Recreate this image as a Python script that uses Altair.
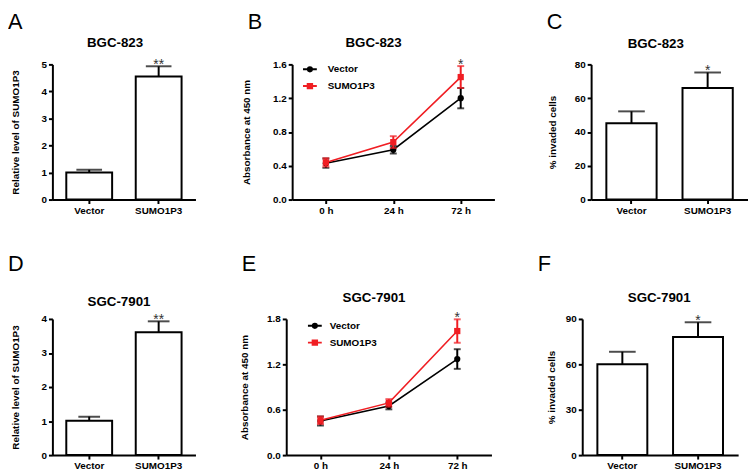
import altair as alt
import pandas as pd

FONT = "Liberation Sans"
RED = "#F01E23"

groups = ["Vector", "SUMO1P3"]
series_colors = ["black", RED]
series_shapes = ["circle", "square"]
timepoints = ["0 h", "24 h", "72 h"]

panel_letters = ["A", "B", "C", "D", "E", "F"]
panel_titles = ["BGC-823", "BGC-823", "BGC-823", "SGC-7901", "SGC-7901", "SGC-7901"]
panel_stars = ["**", "*", "*", "**", "*", "*"]
bar_ylabel_expr = "Relative level of SUMO1P3"
bar_ylabel_inv = "% invaded cells"
line_ylabel = "Absorbance at 450 nm"

# A: relative level, BGC-823
a_means = [1.00, 4.55]
a_errs = [0.10, 0.38]
# C: invasion, BGC-823
c_means = [45.1, 66.0]
c_errs = [7.1, 9.2]
# D: relative level, SGC-7901
d_means = [1.01, 3.61]
d_errs = [0.12, 0.32]
# F: invasion, SGC-7901
f_means = [60.1, 78.1]
f_errs = [8.2, 9.7]

# B: absorbance, BGC-823
b_vector = [0.43, 0.59, 1.20]
b_vector_err = [0.055, 0.045, 0.12]
b_sumo = [0.44, 0.68, 1.45]
b_sumo_err = [0.05, 0.07, 0.13]
# E: absorbance, SGC-7901
e_vector = [0.45, 0.65, 1.27]
e_vector_err = [0.06, 0.045, 0.13]
e_sumo = [0.46, 0.69, 1.64]
e_sumo_err = [0.05, 0.05, 0.155]

P_VEC = "M-1,0H1M0.3,0A0.3,0.3,0,1,1,-0.3,0A0.3,0.3,0,1,1,0.3,0Z"
P_SUMO = "M-1,0H1M-0.32,-0.32H0.32V0.32H-0.32Z"


def heading_layers(i, width, title_dx, title_y, letter_y):
    df = pd.DataFrame({"letter": [panel_letters[i]], "title": [panel_titles[i]]})
    letter = alt.Chart(df).mark_text(
        font=FONT, fontSize=22, align="left", baseline="top", color="black"
    ).encode(x=alt.value(-45), y=alt.value(letter_y), text="letter:N")
    title = alt.Chart(df).mark_text(
        font=FONT, fontSize=13.5, fontWeight="bold", align="center", baseline="alphabetic",
        color="black"
    ).encode(x=alt.value(width / 2 + title_dx), y=alt.value(title_y), text="title:N")
    return [letter, title]


def bar_panel(i, ylabel, means, errs, ymax, yticks, width, height,
              title_dx, title_y, title_pad, letter_y, cap):
    df = pd.DataFrame({"group": groups, "mean": means, "err": errs})
    df["top"] = df["mean"] + df["err"]
    df["star"] = ["", panel_stars[i]]
    xs = alt.X("group:N", sort=groups, title=None,
               scale=alt.Scale(paddingInner=0.34, paddingOuter=0.2),
               axis=alt.Axis(labelAngle=0, labelPadding=2))
    yscale = alt.Scale(domain=[0, ymax], nice=False, zero=True)
    yaxis = alt.Axis(values=yticks, titlePadding=title_pad, labelPadding=2)

    def Y(field):
        return alt.Y(field, scale=yscale, title=ylabel, axis=yaxis)

    base = alt.Chart(df)
    bars = base.mark_bar(fill="white", stroke="black", strokeWidth=2).encode(x=xs, y=Y("mean:Q"))
    rule = base.mark_rule(color="black", strokeWidth=2).encode(x=xs, y=Y("mean:Q"), y2="top:Q")
    caps = base.mark_tick(color="black", thickness=2, size=cap).encode(x=xs, y=Y("top:Q"))
    stars = base.mark_text(font=FONT, fontSize=14, color="#333333", dy=3,
                           baseline="alphabetic").encode(x=xs, y=Y("top:Q"), text="star:N")
    return alt.layer(bars, rule, caps, stars,
                     *heading_layers(i, width, title_dx, title_y, letter_y)).properties(
        width=width, height=height)


def line_panel(i, vec, vec_err, sumo, sumo_err, ymax, yticks, width, height,
               title_dx, title_y, title_pad, letter_y, leg_x, leg_y, label_offset):
    n = len(timepoints)
    df = pd.DataFrame({
        "time": timepoints * 2,
        "series": ["Vector"] * n + ["SUMO1P3"] * n,
        "mean": vec + sumo,
        "err": vec_err + sumo_err,
    })
    df["lo"] = df["mean"] - df["err"]
    df["hi"] = df["mean"] + df["err"]
    df["star"] = [""] * (2 * n - 1) + [panel_stars[i]]
    xs = alt.X("time:N", sort=timepoints, title=None,
               scale=alt.Scale(type="point", padding=0.5),
               axis=alt.Axis(labelAngle=0, labelPadding=2))
    yscale = alt.Scale(domain=[0, ymax], nice=False, zero=True)
    yaxis = alt.Axis(values=yticks, format=".1f", titlePadding=title_pad, labelPadding=2)

    def Y(field):
        return alt.Y(field, scale=yscale, title=line_ylabel, axis=yaxis)

    base = alt.Chart(df)
    layers = []
    for s, col, shp in zip(groups, series_colors, series_shapes):
        sub = base.transform_filter(alt.datum.series == s)
        layers.append(sub.mark_line(strokeWidth=1.6, color=col).encode(x=xs, y=Y("mean:Q")))
        layers.append(sub.mark_rule(strokeWidth=2, color=col).encode(
            x=xs, y=Y("lo:Q"), y2="hi:Q"))
        layers.append(sub.mark_tick(thickness=2, size=7, color=col).encode(x=xs, y=Y("lo:Q")))
        layers.append(sub.mark_tick(thickness=2, size=7, color=col).encode(x=xs, y=Y("hi:Q")))
        layers.append(sub.mark_point(filled=True, size=40, opacity=1, shape=shp, color=col).encode(
            x=xs, y=Y("mean:Q")))

    legend = alt.Legend(
        title=None, orient="none", legendX=leg_x, legendY=leg_y,
        labelFont=FONT, labelFontSize=10, labelFontWeight="bold", labelColor="black",
        symbolSize=196, symbolStrokeWidth=2, rowPadding=2, labelOffset=label_offset, padding=0,
    )
    cscale = alt.Scale(domain=groups, range=series_colors)
    holder = base.transform_filter("false").mark_point(
        filled=True, size=196, opacity=1, strokeWidth=2).encode(
        x=xs, y=Y("mean:Q"),
        color=alt.Color("series:N", scale=cscale, legend=legend),
        stroke=alt.Stroke("series:N", scale=cscale, legend=legend),
        shape=alt.Shape("series:N", scale=alt.Scale(domain=groups, range=[P_VEC, P_SUMO]),
                        legend=legend),
    )
    stars = base.mark_text(font=FONT, fontSize=14, color="#333333", dy=3,
                           baseline="alphabetic").encode(x=xs, y=Y("hi:Q"), text="star:N")
    return alt.layer(*layers, holder, stars,
                     *heading_layers(i, width, title_dx, title_y, letter_y)).properties(
        width=width, height=height)


A = bar_panel(0, bar_ylabel_expr, a_means, a_errs, 5, [0, 1, 2, 3, 4, 5], 145, 137,
              -9, -18, 21, -53, 26)
B = line_panel(1, b_vector, b_vector_err, b_sumo, b_sumo_err, 1.6, [0, 0.4, 0.8, 1.2, 1.6],
               205, 137, -20, -18, 21, -53, 10, -3, 10)
C = bar_panel(2, bar_ylabel_inv, c_means, c_errs, 80, [0, 20, 40, 60, 80], 159, 137,
              -14, -17, 17, -53, 27)
D = bar_panel(3, bar_ylabel_expr, d_means, d_errs, 4, [0, 1, 2, 3, 4], 145, 138,
              -5, -13, 21, -66, 22)
E = line_panel(4, e_vector, e_vector_err, e_sumo, e_sumo_err, 1.8, [0, 0.6, 1.2, 1.8],
               208, 138, -15, -17, 17, -66, 21, -1, 7)
F = bar_panel(5, bar_ylabel_inv, f_means, f_errs, 90, [0, 30, 60, 90], 158, 138,
              -1, -17, 9, -66, 27)

indep = dict(color="independent", stroke="independent", shape="independent")

row1 = alt.hconcat(A, B, C, spacing=98, bounds="flush").resolve_scale(**indep).resolve_legend(**indep)
row2 = alt.hconcat(D, E, F, spacing=92, bounds="flush").resolve_scale(**indep).resolve_legend(**indep)

chart = alt.vconcat(row1, row2, spacing=38).resolve_scale(**indep).resolve_legend(**indep).configure_axis(
    domainColor="black", domainWidth=2, tickColor="black", tickWidth=2, tickSize=4,
    labelFont=FONT, labelFontSize=10, labelFontWeight="bold", labelColor="black",
    titleFont=FONT, titleFontSize=10, titleFontWeight="bold", titleColor="black", grid=False,
).configure_view(stroke=None).properties(padding=0, background="white")

chart.save("out.html", embed_options={"renderer": "svg", "actions": False})
